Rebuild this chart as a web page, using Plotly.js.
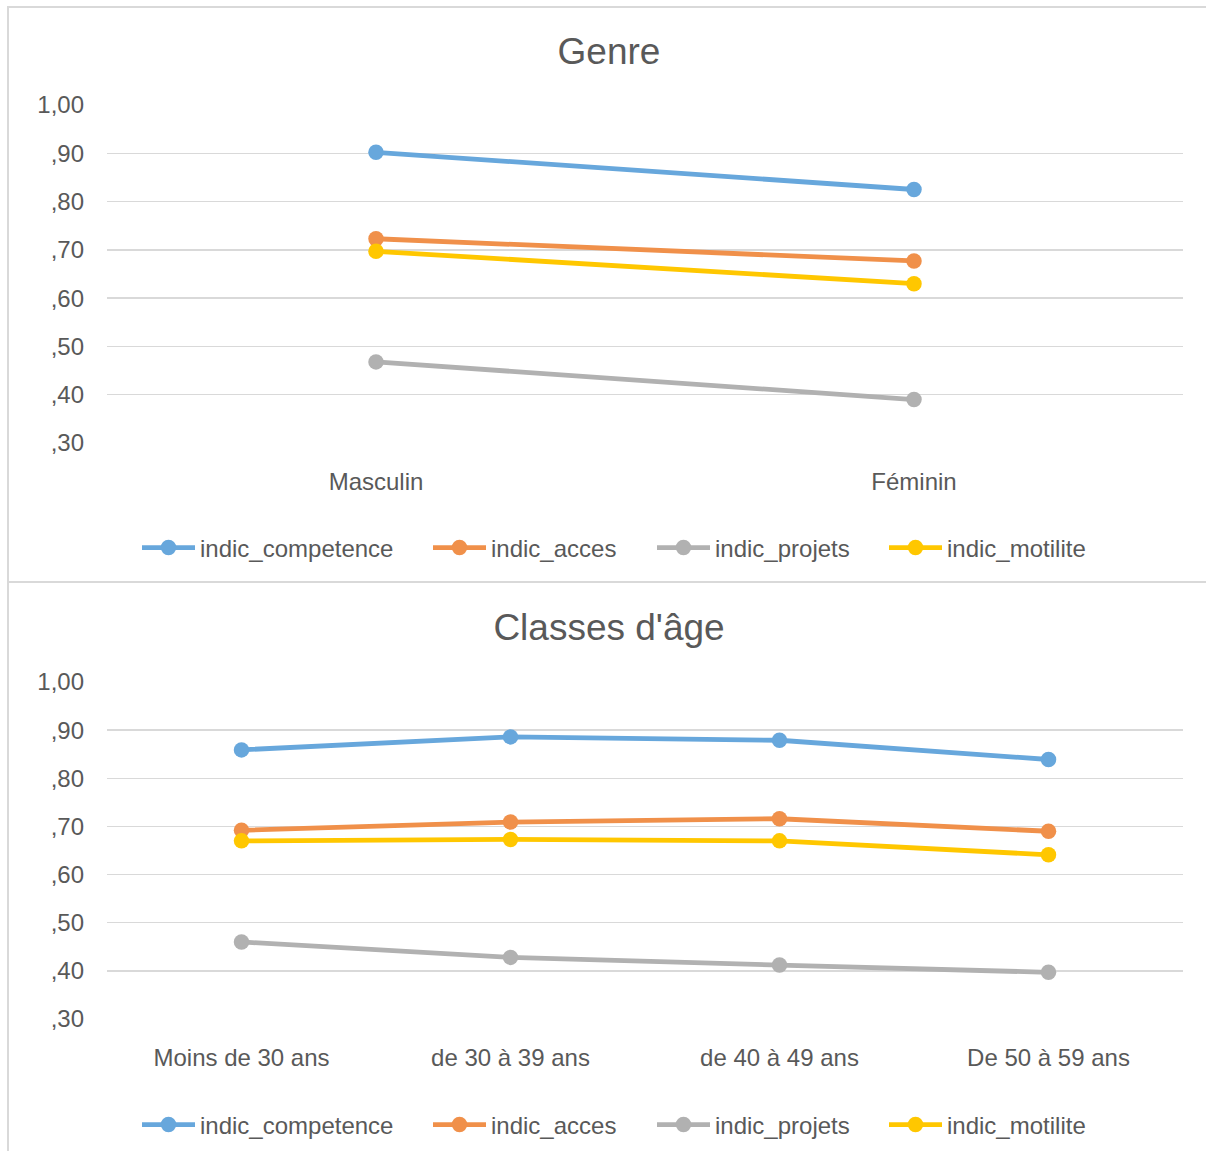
<!DOCTYPE html>
<html>
<head>
<meta charset="utf-8">
<script src="https://cdn.plot.ly/plotly-3.0.1.min.js"></script>
<style>
  html, body { margin: 0; padding: 0; background: #ffffff; }
  #wrap { position: relative; width: 1206px; height: 1151px; overflow: hidden; }
  .frame { position: absolute; background: #d9d9d9; }
  #genre { position: absolute; left: 0; top: 0; width: 1206px; height: 582px; }
  #age { position: absolute; left: 0; top: 582px; width: 1206px; height: 569px; }
</style>
</head>
<body>
<div id="wrap">
  <div id="genre"></div>
  <div id="age"></div>
  <div class="frame" style="left:7px; top:6px; width:1199px; height:2px;"></div>
  <div class="frame" style="left:7px; top:6px; width:2px; height:1145px;"></div>
  <div class="frame" style="left:7px; top:581px; width:1199px; height:2px;"></div>
</div>
<script>
// Series names and colours
const seriesNames = ['indic_competence', 'indic_acces', 'indic_projets', 'indic_motilite'];
const seriesColors = ['#67A7DC', '#F0904A', '#B1B1B1', '#FFC700'];

// Chart 1: by gender
const genreCategories = ['Masculin', 'Féminin'];
const genreCompetence = [0.902, 0.825];
const genreAcces      = [0.723, 0.677];
const genreProjets    = [0.468, 0.390];
const genreMotilite   = [0.697, 0.630];

// Chart 2: by age group
const ageCategories = ['Moins de 30 ans', 'de 30 à 39 ans', 'de 40 à 49 ans', 'De 50 à 59 ans'];
const ageCompetence = [0.859, 0.886, 0.879, 0.839];
const ageAcces      = [0.692, 0.709, 0.716, 0.690];
const ageProjets    = [0.460, 0.428, 0.412, 0.397];
const ageMotilite   = [0.670, 0.673, 0.670, 0.641];

// Y axis ticks (French decimal style)
const yTickVals = [0.3, 0.4, 0.5, 0.6, 0.7, 0.8, 0.9, 1.0];
const yTickText = [',30', ',40', ',50', ',60', ',70', ',80', ',90', '1,00'];

const FONT = 'Liberation Sans, Arial, sans-serif';
const TXT = '#595959';
const W = 1206;

// one legend per series so each entry sits at its own horizontal slot
const legendIds = ['legend', 'legend2', 'legend3', 'legend4'];
const legendLeftPx = [137, 428, 652, 884];

function makeTraces(cats, series) {
  return series.map((vals, i) => ({
    type: 'scatter',
    mode: 'lines+markers',
    name: seriesNames[i],
    legend: legendIds[i],
    x: cats,
    y: vals,
    line: { color: seriesColors[i], width: 4.8 },
    marker: { color: seriesColors[i], size: 15.5 },
    cliponaxis: false
  }));
}

function makeLayout(title, titleY, nCats, height, top, bottom, legendY) {
  const layout = {
    width: W,
    height: height,
    paper_bgcolor: 'rgba(0,0,0,0)',
    plot_bgcolor: 'rgba(0,0,0,0)',
    font: { family: FONT, color: TXT, size: 24 },
    margin: { l: 107, r: 23, t: top, b: bottom, pad: 0 },
    title: {
      text: title,
      font: { family: FONT, color: TXT, size: 37 },
      xref: 'container', x: 0.505, xanchor: 'center',
      yref: 'container', y: titleY, yanchor: 'middle'
    },
    showlegend: true,
    xaxis: {
      type: 'category',
      range: [-0.5, nCats - 0.5],
      showgrid: false,
      zeroline: false,
      showline: false,
      ticks: '',
      ticklabelstandoff: 22,
      tickfont: { family: FONT, color: TXT, size: 24 },
      fixedrange: true
    },
    yaxis: {
      range: [0.3, 1.0],
      tickvals: yTickVals,
      ticktext: yTickText,
      showgrid: true,
      gridcolor: '#d9d9d9',
      gridwidth: 1.5,
      zeroline: false,
      showline: false,
      ticks: '',
      ticklabelstandoff: 22,
      tickfont: { family: FONT, color: TXT, size: 24 },
      fixedrange: true
    }
  };
  legendIds.forEach((id, i) => {
    layout[id] = {
      orientation: 'h',
      xref: 'container', x: legendLeftPx[i] / W, xanchor: 'left',
      yref: 'container', y: legendY, yanchor: 'middle',
      font: { family: FONT, color: TXT, size: 24 },
      itemwidth: 53,
      bgcolor: 'rgba(0,0,0,0)'
    };
  });
  return layout;
}

const cfg = { staticPlot: true, displayModeBar: false };

Plotly.newPlot('genre',
  makeTraces(genreCategories, [genreCompetence, genreAcces, genreProjets, genreMotilite]),
  makeLayout('Genre', 1 - 51 / 582, genreCategories.length, 582, 105, 139, 1 - 548 / 582),
  cfg);

Plotly.newPlot('age',
  makeTraces(ageCategories, [ageCompetence, ageAcces, ageProjets, ageMotilite]),
  makeLayout("Classes d'âge", 1 - 45 / 569, ageCategories.length, 569, 100, 132, 1 - 543 / 569),
  cfg);
</script>
</body>
</html>
